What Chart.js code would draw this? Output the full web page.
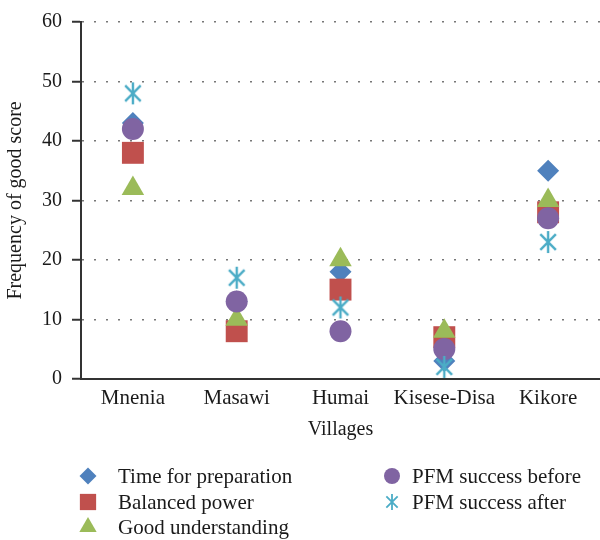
<!DOCTYPE html>
<html>
<head>
<meta charset="utf-8">
<script src="https://cdn.jsdelivr.net/npm/chart.js@4"></script>
<style>
  html, body { margin: 0; padding: 0; background: #fff; }
  #wrap { width: 600px; height: 540px; }
</style>
</head>
<body>
<div id="wrap"><canvas id="scoreChart" width="600" height="540"></canvas></div>
<script>
const villages = ['Mnenia', 'Masawi', 'Humai', 'Kisese-Disa', 'Kikore'];
const timeForPreparation = [43, 13, 18, 3, 35];
const balancedPower = [38, 8, 15, 7, 28];
const goodUnderstanding = [32, 10, 20, 8, 30];
const pfmBefore = [42, 13, 8, 5, 27];
const pfmAfter = [48, 17, 12, 2, 23];
const yTicks = [0, 10, 20, 30, 40, 50, 60];

const serif = "'Liberation Serif', 'DejaVu Serif', serif";

// six-arm asterisk marker, like the one the spreadsheet uses
function makeAsterisk(size, lw, color) {
  const c = document.createElement('canvas');
  c.width = size;
  c.height = size;
  const g = c.getContext('2d');
  const h = size / 2, r = size / 2 - 1;
  const d = r * Math.SQRT1_2;
  g.strokeStyle = color;
  g.lineWidth = lw;
  g.beginPath();
  g.moveTo(h, h - r); g.lineTo(h, h + r);
  g.moveTo(h - d, h - d); g.lineTo(h + d, h + d);
  g.moveTo(h + d, h - d); g.lineTo(h - d, h + d);
  g.stroke();
  return c;
}

const starBig = makeAsterisk(24, 2.4, '#4bacc6');
const starSmall = makeAsterisk(18, 1.8, '#4bacc6');

const series = [
  { label: 'Time for preparation', data: timeForPreparation, color: '#4f81bd', style: 'rectRot', radius: 11, legendRadius: 8.5 },
  { label: 'Balanced power', data: balancedPower, color: '#c0504d', style: 'rect', radius: 15.5, legendRadius: 11.5 },
  { label: 'Good understanding', data: goodUnderstanding, color: '#9bbb59', style: 'triangle', radius: 13, legendRadius: 10 },
  { label: 'PFM success before', data: pfmBefore, color: '#8064a2', style: 'circle', radius: 11, legendRadius: 8 },
  { label: 'PFM success after', data: pfmAfter, color: '#4bacc6', style: starBig, radius: 11, legendRadius: 8 }
];

// legend in two columns under the axis title
const legendCols = [
  { marker: 88, text: 118, rows: [0, 1, 2] },
  { marker: 392, text: 412, rows: [3, 4] }
];
const legendRowY = [476, 502, 527];

const columnLegend = {
  id: 'columnLegend',
  afterDraw(chart) {
    const ctx = chart.ctx;
    ctx.save();
    ctx.font = '21px ' + serif;
    ctx.textBaseline = 'middle';
    ctx.textAlign = 'left';
    legendCols.forEach(col => {
      col.rows.forEach((idx, row) => {
        const s = series[idx];
        const y = legendRowY[row];
        if (typeof s.style === 'string') {
          ctx.fillStyle = s.color;
          ctx.strokeStyle = s.color;
          Chart.helpers.drawPoint(ctx, { pointStyle: s.style, radius: s.legendRadius, rotation: 0, borderWidth: 0 }, col.marker, y);
        } else {
          ctx.drawImage(starSmall, col.marker - 9, y - 9);
        }
        ctx.fillStyle = '#1a1a1a';
        ctx.fillText(s.label, col.text, y + 1);
      });
    });
    ctx.restore();
  }
};

const ctx = document.getElementById('scoreChart').getContext('2d');

const scoreChart = new Chart(ctx, {
  type: 'line',
  data: {
    labels: villages,
    datasets: series.map((s, i) => ({
      label: s.label,
      data: s.data,
      // later series sit on top, as in the spreadsheet
      order: series.length - i,
      showLine: false,
      clip: false,
      pointStyle: s.style,
      pointRadius: s.radius,
      pointHoverRadius: s.radius,
      pointBackgroundColor: s.color,
      pointBorderColor: s.color,
      pointBorderWidth: 0
    }))
  },
  options: {
    responsive: false,
    animation: false,
    layout: {
      autoPadding: false,
      padding: { top: 21, right: 0, left: 0, bottom: 98 }
    },
    scales: {
      x: {
        offset: true,
        afterFit: axis => { axis.paddingLeft = 0; axis.paddingRight = 0; },
        grid: { display: false, drawTicks: false },
        border: { display: true, color: '#333', width: 2 },
        ticks: {
          padding: 7,
          maxRotation: 0,
          minRotation: 0,
          autoSkip: false,
          color: '#1a1a1a',
          font: { family: serif, size: 21 }
        },
        title: {
          display: true,
          text: 'Villages',
          color: '#1a1a1a',
          padding: { top: 0, bottom: 0 },
          font: { family: serif, size: 20 }
        }
      },
      y: {
        min: 0,
        max: 60,
        afterBuildTicks: axis => { axis.ticks = yTicks.map(v => ({ value: v })); },
        afterFit: axis => { axis.width = 81; },
        grid: {
          color: '#777',
          lineWidth: 1.5,
          tickLength: 9,
          tickColor: '#333',
          tickWidth: 2,
          tickBorderDash: []
        },
        border: { display: true, color: '#333', width: 2, dash: [2, 10] },
        ticks: {
          padding: 10,
          color: '#1a1a1a',
          font: { family: serif, size: 20 }
        },
        title: {
          display: true,
          text: 'Frequency of good score',
          color: '#1a1a1a',
          padding: { top: 4, bottom: 14 },
          font: { family: serif, size: 20 }
        }
      }
    },
    plugins: {
      legend: { display: false },
      tooltip: { enabled: false }
    }
  },
  plugins: [columnLegend]
});
</script>
</body>
</html>
